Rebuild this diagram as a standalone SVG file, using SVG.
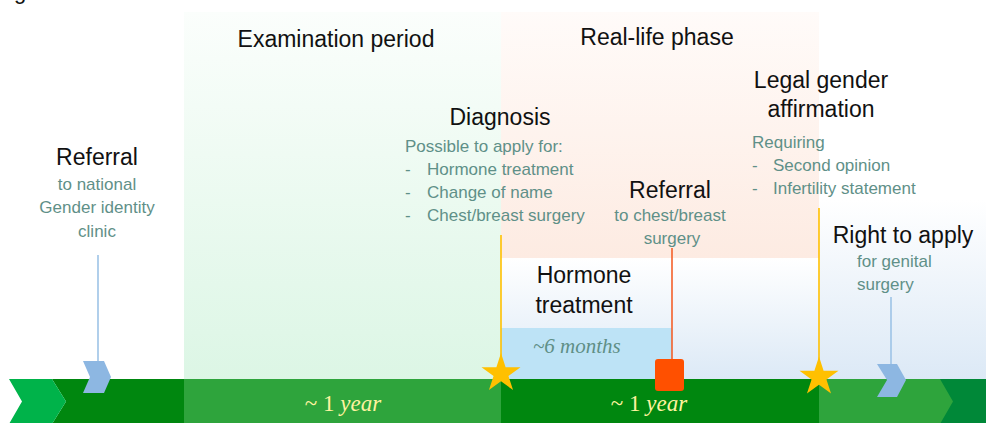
<svg xmlns="http://www.w3.org/2000/svg" width="986" height="423" viewBox="0 0 986 423">
<defs>
<linearGradient id="gExam" x1="0" y1="0" x2="0" y2="1">
<stop offset="0" stop-color="#FBFEFC"/>
<stop offset="1" stop-color="#DCF6E5"/>
</linearGradient>
<linearGradient id="gReal" x1="0" y1="0" x2="0" y2="1">
<stop offset="0" stop-color="#FFFBF9"/>
<stop offset="1" stop-color="#FDEBE2"/>
</linearGradient>
<linearGradient id="gBlue" x1="0" y1="0" x2="0" y2="1">
<stop offset="0" stop-color="#FFFFFF"/>
<stop offset="1" stop-color="#DCE9F6"/>
</linearGradient>
<polygon id="star" points="0,-20.5 4.6,-6.33 19.5,-6.33 7.45,2.42 12.05,16.58 0,7.83 -12.05,16.58 -7.45,2.42 -19.5,-6.33 -4.6,-6.33"/>
<style>
.h{font-family:"Liberation Sans",Arial,sans-serif;font-size:23px;fill:#111111;text-anchor:middle}
.t{font-family:"Liberation Sans",Arial,sans-serif;font-size:17px;fill:#5F9088}
.c{text-anchor:middle}
.m{font-family:"Liberation Serif","Times New Roman",serif;font-size:23px;fill:#FFF3A0}
.mi{font-style:italic}
.star{fill:#FFC000}
.chev{fill:#8DB7E2}
.ly{stroke:#FFC000;stroke-width:1.6;fill:none}
.lo{stroke:#F4602A;stroke-width:1.6;fill:none}
.lb{stroke:#9DC3E6;stroke-width:1.6;fill:none}
</style>
</defs>

<text x="14" y="-1.5" style="font-family:'Liberation Sans',Arial,sans-serif;font-size:22px;fill:#111">g</text>

<g id="backgrounds">
<rect x="184" y="12" width="317" height="367" fill="url(#gExam)"/>
<rect x="501" y="12" width="318" height="246" fill="url(#gReal)"/>
<rect x="501" y="258" width="318" height="121" fill="url(#gBlue)"/>
<rect x="819" y="200" width="167" height="179" fill="url(#gBlue)"/>
<rect x="501" y="328" width="171" height="51" fill="#BDE3F6"/>
</g>

<g id="timeline-bar">
<polygon points="52,379 184,379 184,424 52,424 66,401.5" fill="#00870F"/>
<polygon points="9,379 52,379 66,401.5 52,424 9,424 22,401.5" fill="#00B34A"/>
<rect x="184" y="379" width="317" height="45" fill="#2EA43C"/>
<rect x="501" y="379" width="318" height="45" fill="#00870F"/>
<rect x="819" y="379" width="167" height="45" fill="#2EA43C"/>
<polygon points="940,379 986,379 986,424 940,424 953,401.5" fill="#008838"/>
</g>

<g id="connectors">
<line class="lb" x1="98" y1="255" x2="98" y2="362"/>
<line class="ly" x1="501" y1="235" x2="501" y2="360"/>
<line class="lo" x1="672" y1="248" x2="672" y2="360"/>
<line class="ly" x1="819" y1="208" x2="819" y2="363"/>
<line class="lb" x1="891" y1="297" x2="891" y2="365"/>
</g>

<g id="examination-period">
<text class="h" x="336" y="47">Examination period</text>
<text class="m" x="343" y="411" text-anchor="middle">~ 1 <tspan class="mi">year</tspan></text>
</g>

<g id="real-life-phase">
<text class="h" x="657" y="45">Real-life phase</text>
<text class="m" x="649" y="411" text-anchor="middle">~ 1 <tspan class="mi">year</tspan></text>
</g>

<g id="referral-gic">
<polygon class="chev" points="83,361 104,361 111,377 104,393 83,393 90,377"/>
<text class="h" x="97" y="165">Referral</text>
<text class="t c" x="97" y="190">to national</text>
<text class="t c" x="97" y="213">Gender identity</text>
<text class="t c" x="97" y="237">clinic</text>
</g>

<g id="diagnosis">
<use href="#star" class="star" x="501" y="373.5"/>
<text class="h" x="500" y="125">Diagnosis</text>
<text class="t" x="405" y="152">Possible to apply for:</text>
<text class="t" x="405" y="175">-</text>
<text class="t" x="427" y="175">Hormone treatment</text>
<text class="t" x="405" y="198">-</text>
<text class="t" x="427" y="198">Change of name</text>
<text class="t" x="405" y="221">-</text>
<text class="t" x="427" y="221">Chest/breast surgery</text>
</g>

<g id="hormone-treatment">
<text class="h" x="584" y="283">Hormone</text>
<text class="h" x="584" y="313">treatment</text>
<text x="533" y="353" style="font-family:'Liberation Serif','Times New Roman',serif;font-size:21px;font-style:italic;fill:#5F8F86">~6 months</text>
</g>

<g id="referral-surgery">
<rect x="655" y="359" width="29" height="32" rx="3" fill="#FF5000"/>
<text class="h" x="670" y="198">Referral</text>
<text class="t c" x="670" y="221">to chest/breast</text>
<text class="t c" x="672" y="244">surgery</text>
</g>

<g id="legal-gender-affirmation">
<use href="#star" class="star" x="819" y="377"/>
<text class="h" x="821" y="88">Legal gender</text>
<text class="h" x="821" y="117">affirmation</text>
<text class="t" x="752" y="148">Requiring</text>
<text class="t" x="752" y="171">-</text>
<text class="t" x="773" y="171">Second opinion</text>
<text class="t" x="752" y="194">-</text>
<text class="t" x="773" y="194">Infertility statement</text>
</g>

<g id="right-to-apply">
<polygon class="chev" points="877,364 897,364 906,380 897,397 877,397 887,380"/>
<text class="h" x="903" y="243">Right to apply</text>
<text class="t" x="857" y="267">for genital</text>
<text class="t" x="857" y="290">surgery</text>
</g>
</svg>
